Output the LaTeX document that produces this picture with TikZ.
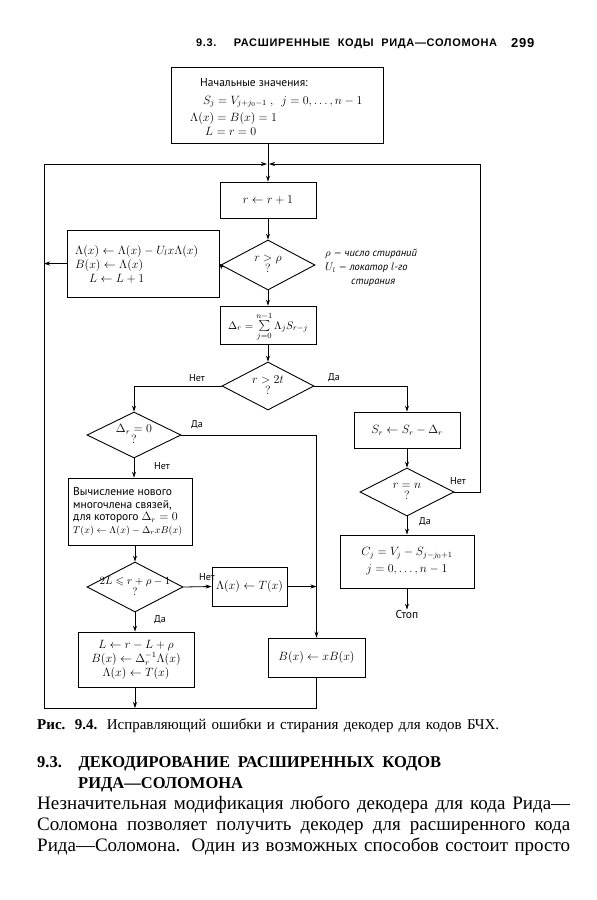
\documentclass[tikz,border=0pt]{standalone}
\usepackage{fontspec}
\usepackage{amssymb}
\setmainfont{Liberation Serif}
\newfontfamily\dfont{PT Sans}
\newfontfamily\hfont{Liberation Sans}[LetterSpace=6]
\usetikzlibrary{shapes.geometric,arrows.meta}
\tikzset{
  blk/.style={draw, line width=0.9pt, inner sep=0pt, align=center, font=\dfont\fontsize{11.5}{14}\selectfont},
  dia/.style={draw, diamond, line width=0.9pt, inner sep=0pt},
  dtxt/.style={inner sep=0pt, align=center, font=\dfont\fontsize{11.5}{13}\selectfont},
  lbl/.style={inner sep=0pt, font=\dfont\fontsize{10}{12}\selectfont},
  arr/.style={-{Stealth[length=6pt,width=4pt]}, line width=0.8pt},
  ln/.style={line width=0.8pt},
  pg/.style={inner sep=0pt, anchor=base west}
}
\begin{document}
\begin{tikzpicture}[x=1pt,y=-1pt]
\useasboundingbox[fill=white] (0,0) rectangle (597,900);

% header
\node[pg, font=\hfont\bfseries\fontsize{11}{12}\selectfont] (hdr) at (196,46) {\makebox[301pt][s]{9.3. РАСШИРЕННЫЕ КОДЫ РИДА—СОЛОМОНА}};
\node[pg, font=\hfont\bfseries\fontsize{13}{13}\selectfont] (pgno) at (511,47) {299};

% coordinates of the loop
\coordinate (J) at (268,164);
\coordinate (TL) at (44,164);
\coordinate (TR) at (480,164);
\coordinate (BL) at (44,708);

% init box
\node[blk, minimum width=212pt, minimum height=76pt] (init) at (277,105) {};
\node[pg, font=\dfont\fontsize{11.5}{13}\selectfont] (i1) at (200,86) {Начальные значения:};
\node[pg, font=\dfont\fontsize{11.5}{13}\selectfont] (i2) at (203,104) {$S_j = V_{j+j_0-1}\ ,\ \ j = 0,\ldots,n-1$};
\node[pg, font=\dfont\fontsize{11.5}{13}\selectfont] (i3) at (190,121) {$\Lambda(x) = B(x) = 1$};
\node[pg, font=\dfont\fontsize{11.5}{13}\selectfont] (i4) at (205,135) {$L = r = 0$};

% main column
\node[blk, minimum width=96pt, minimum height=36pt] (rbox) at (268,200) {$r \leftarrow r+1$};
\node[dia, minimum width=94pt, minimum height=50pt] (d1) at (268,265) {};
\node[dtxt] (d1t) at (268,264) {$r > \rho$\\[-2pt]$?$};
\node[blk, minimum width=152pt, minimum height=67pt, align=left] (lam) at (143,263.5) {};
\node[inner sep=0pt, align=left, anchor=west, font=\dfont\fontsize{11.5}{14}\selectfont] (lamt) at (75,264)
  {$\Lambda(x) \leftarrow \Lambda(x) - U_l x \Lambda(x)$\\ $B(x) \leftarrow \Lambda(x)$\\ \hspace*{14pt}$L \leftarrow L+1$};
\node[inner sep=0pt, align=left, anchor=north west, font=\dfont\itshape\fontsize{10.5}{14}\selectfont] (note) at (325,249)
  {$\rho$ — число стираний\\ $U_l$ — локатор $l$-го\\ \hspace*{26pt}стирания};
\node[blk, minimum width=96pt, minimum height=38pt] (delta) at (268,325) {};
\node[dtxt, font=\dfont\fontsize{11}{13}\selectfont] (deltat) at (268,327) {$\Delta_r = \sum\limits_{j=0}^{n-1} \Lambda_j S_{r-j}$};
\node[dia, minimum width=92pt, minimum height=48pt] (d2) at (268,386) {};
\node[dtxt] (d2t) at (268,385) {$r > 2t$\\[-2pt]$?$};

% right column
\node[blk, minimum width=106pt, minimum height=36pt] (sr) at (407,430) {$S_r \leftarrow S_r - \Delta_r$};
\node[dia, minimum width=94pt, minimum height=48pt] (d4) at (407,492) {};
\node[dtxt] (d4t) at (407,491) {$r = n$\\[-2pt]$?$};
\node[blk, minimum width=134pt, minimum height=53pt] (cj) at (407,561.5) {$C_j = V_j - S_{j-j_0+1}$\\[3pt] $j = 0,\ldots,n-1$};
\node[dtxt] (stop) at (407,614) {Стоп};

% left column
\node[dia, minimum width=94pt, minimum height=46pt] (d3) at (134,435) {};
\node[dtxt] (d3t) at (134,434) {$\Delta_r = 0$\\[-2pt]$?$};
\node[blk, minimum width=124pt, minimum height=67pt] (comp) at (130,511.5) {};
\node[inner sep=0pt, align=left, anchor=west, font=\dfont\fontsize{11.5}{12.5}\selectfont] (compt) at (73,511.5)
  {Вычисление нового\\ многочлена связей,\\ для которого $\Delta_r = 0$\\ {\fontsize{10}{12.5}\selectfont$T(x) \leftarrow \Lambda(x) - \Delta_r x B(x)$}};
\node[dia, minimum width=96pt, minimum height=50pt] (d5) at (135,587) {};
\node[dtxt, font=\dfont\fontsize{11}{13}\selectfont] (d5t) at (135,586) {$2L \leqslant r+\rho-1$\\[-2pt]$?$};
\node[blk, minimum width=75pt, minimum height=39pt] (lt) at (249.5,586.5) {$\Lambda(x) \leftarrow T(x)$};
\node[blk, minimum width=97pt, minimum height=39pt] (bb) at (316.5,657.5) {$B(x) \leftarrow xB(x)$};
\node[blk, minimum width=116pt, minimum height=55pt] (lbox) at (136,659.5)
  {$L \leftarrow r-L+\rho$\\ $B(x) \leftarrow \Delta_r^{-1}\Lambda(x)$\\ $\Lambda(x) \leftarrow T(x)$};

% connectors
\draw[ln] (init.south -| J) -- (J);
\draw[arr] (J) -- (rbox);
\draw[arr] (BL) -- (TL) -- ([xshift=-1pt]J);
\draw[arr] (d4.east) -| (TR) -- ([xshift=1pt]J);
\draw[arr] (rbox) -- (d1);
\draw[arr] (d1.west) -- (lam.east);
\draw[arr] (lam.west) -- (lam.west -| TL);
\draw[arr] (d1) -- (delta);
\draw[arr] (delta) -- (d2);
\draw[arr] (d2.west) -| (d3.north);
\draw[arr] (d2.east) -| (sr.north);
\draw[arr] (sr) -- (d4);
\draw[arr] (d4) -- (cj);
\draw[arr] (cj) -- (stop);
\draw[arr] (d3.east) -| (bb.north);
\draw[arr] (d3.south) -- (d3.south |- comp.north);
\draw[arr] (comp.south -| d5) -- (d5.north);
\draw[arr] (d5.east) -- (lt.west);
\draw[arr] (lt.east) -- (lt.east -| bb.north);
\draw[arr] (d5.south) -- (d5.south |- lbox.north);
\draw[arr] (lbox.south -| d5) -- (d5 |- BL);
\draw[ln] (bb.south) -- (bb.south |- BL) -- (BL);

% branch labels
\node[lbl] (n1) at (197,378) {Нет};
\node[lbl] (y1) at (334,378) {Да};
\node[lbl] (y2) at (197,425) {Да};
\node[lbl] (n2) at (162,466) {Нет};
\node[lbl] (n3) at (207,577) {Нет};
\node[lbl] (y3) at (160,620) {Да};
\node[lbl] (n4) at (458,481) {Нет};
\node[lbl] (y4) at (425,522) {Да};

% caption and text
\node[pg, font=\fontsize{15}{16}\selectfont] (cap) at (37,729) {\makebox[462pt][s]{\textbf{Рис. 9.4.} Исправляющий ошибки и стирания декодер для кодов БЧХ.}};
\node[pg, font=\bfseries\fontsize{16.5}{20}\selectfont] (h1) at (37,767) {\makebox[404pt][s]{9.3. ДЕКОДИРОВАНИЕ РАСШИРЕННЫХ КОДОВ}};
\node[pg, font=\bfseries\fontsize{16.5}{20}\selectfont] (h2) at (78,788) {РИДА—СОЛОМОНА};
\node[pg, font=\fontsize{19}{21}\selectfont] (b1) at (37,809) {\makebox[533pt][s]{Незначительная модификация любого декодера для кода Рида—}};
\node[pg, font=\fontsize{19}{21}\selectfont] (b2) at (37,830) {\makebox[533pt][s]{Соломона позволяет получить декодер для расширенного кода}};
\node[pg, font=\fontsize{19}{21}\selectfont] (b3) at (37,851) {\makebox[533pt][s]{Рида—Соломона. Один из возможных способов состоит просто}};
\end{tikzpicture}
\end{document}
